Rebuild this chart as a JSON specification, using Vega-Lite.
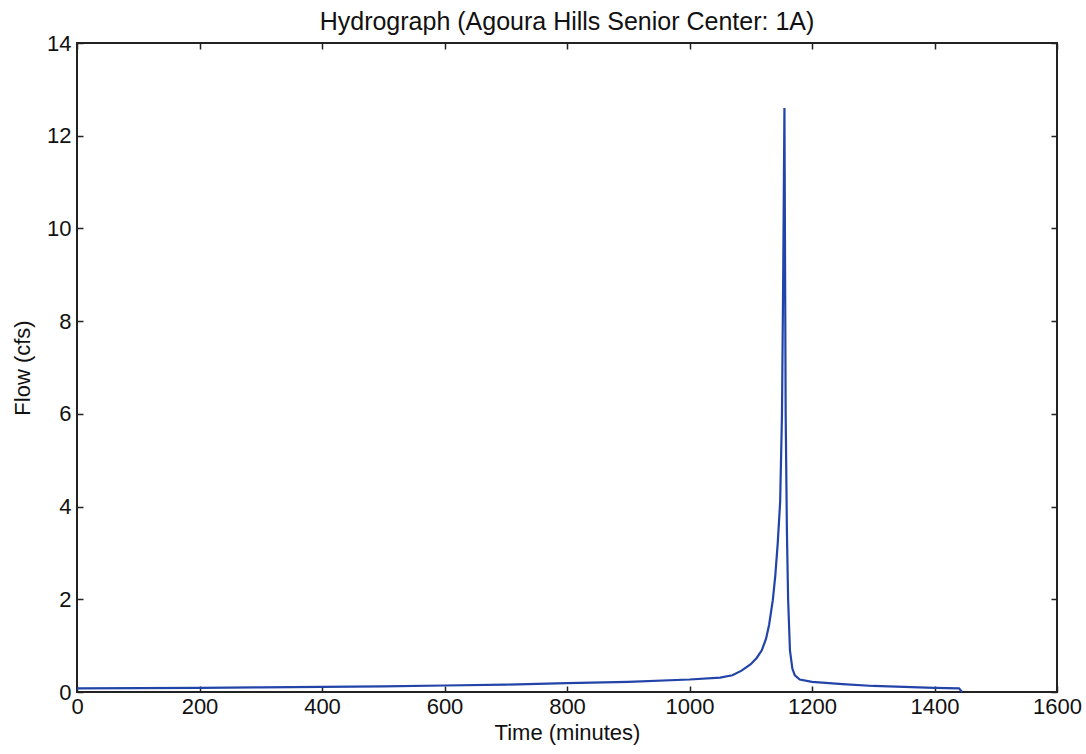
{
  "$schema": "https://vega.github.io/schema/vega-lite/v6.json",
  "width": 980,
  "height": 649,
  "autosize": "none",
  "padding": {"left": 77, "top": 43, "right": 29, "bottom": 62},
  "background": "white",
  "title": {"text": "Hydrograph (Agoura Hills Senior Center: 1A)", "font": "Liberation Sans", "fontSize": 25, "fontWeight": "normal", "color": "#111", "offset": -3},
  "config": {
    "view": {"stroke": "#222", "strokeWidth": 2},
    "axis": {"grid": false, "domain": false, "tickColor": "#222", "tickSize": -6, "tickWidth": 1.5, "labelFont": "Liberation Sans", "labelFontSize": 22, "labelColor": "#111", "titleFont": "Liberation Sans", "titleFontSize": 22, "titleFontWeight": "normal", "titleColor": "#111"}
  },
  "data": {"values": [
    {"t": 0, "q": 0.08}, {"t": 100, "q": 0.085}, {"t": 200, "q": 0.09}, {"t": 300, "q": 0.1},
    {"t": 400, "q": 0.11}, {"t": 500, "q": 0.12}, {"t": 600, "q": 0.14}, {"t": 700, "q": 0.16},
    {"t": 800, "q": 0.19}, {"t": 900, "q": 0.22}, {"t": 1000, "q": 0.27}, {"t": 1050, "q": 0.31},
    {"t": 1070, "q": 0.36}, {"t": 1085, "q": 0.46}, {"t": 1100, "q": 0.6}, {"t": 1110, "q": 0.74},
    {"t": 1118, "q": 0.9}, {"t": 1125, "q": 1.15}, {"t": 1130, "q": 1.45}, {"t": 1136, "q": 1.98},
    {"t": 1140, "q": 2.5}, {"t": 1144, "q": 3.2}, {"t": 1148, "q": 4.1}, {"t": 1151, "q": 6},
    {"t": 1153, "q": 9}, {"t": 1155, "q": 12.6}, {"t": 1157, "q": 6}, {"t": 1159, "q": 3.5},
    {"t": 1161, "q": 2}, {"t": 1164, "q": 0.9}, {"t": 1168, "q": 0.5}, {"t": 1172, "q": 0.36},
    {"t": 1180, "q": 0.27}, {"t": 1200, "q": 0.22}, {"t": 1250, "q": 0.17}, {"t": 1300, "q": 0.13},
    {"t": 1350, "q": 0.11}, {"t": 1400, "q": 0.09}, {"t": 1440, "q": 0.08}, {"t": 1445, "q": 0.0}
  ]},
  "layer": [
    {
      "mark": {"type": "line", "color": "#2244a8", "strokeWidth": 2.2},
      "encoding": {
        "x": {"field": "t", "type": "quantitative", "scale": {"domain": [0, 1600], "nice": false}, "axis": {"title": "Time (minutes)", "format": "d", "values": [0,200,400,600,800,1000,1200,1400,1600], "labelPadding": 10, "titlePadding": 5, "labelFlush": false}},
        "y": {"field": "q", "type": "quantitative", "scale": {"domain": [0, 14], "nice": false}, "axis": {"title": "Flow (cfs)", "values": [0,2,4,6,8,10,12,14], "labelPadding": 12, "titlePadding": 12, "labelFlush": false}}
      }
    },
    {
      "mark": {"type": "line", "opacity": 0},
      "encoding": {
        "x": {"field": "t", "type": "quantitative", "scale": {"domain": [0, 1600], "nice": false}, "axis": {"orient": "top", "title": null, "labels": false, "values": [0,200,400,600,800,1000,1200,1400,1600]}},
        "y": {"field": "q", "type": "quantitative", "scale": {"domain": [0, 14], "nice": false}, "axis": {"orient": "right", "title": null, "labels": false, "values": [0,2,4,6,8,10,12,14]}}
      }
    }
  ],
  "resolve": {"axis": {"x": "independent", "y": "independent"}}
}
